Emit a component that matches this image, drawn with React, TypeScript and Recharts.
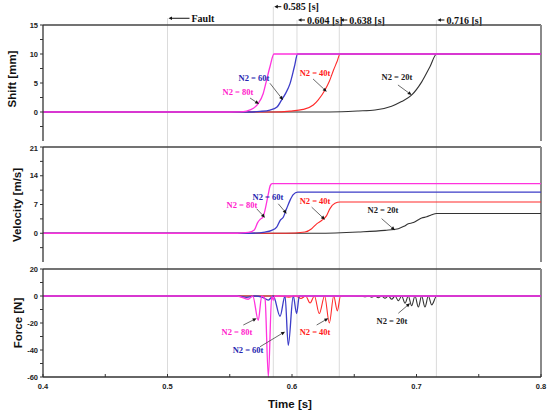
import React from 'react';
import { LineChart, Line, XAxis, YAxis, ReferenceLine, ReferenceDot } from 'recharts';

const FONT_SANS = "'Liberation Sans', Arial, sans-serif";
const FONT_SERIF = "'Liberation Serif', 'Times New Roman', serif";

// x axis (time, s)
const xTicks = [0.4, 0.45, 0.5, 0.55, 0.6, 0.65, 0.7, 0.75, 0.8];

// shift [mm]
const shiftT20 = [0.4, 0.62, 0.64, 0.6533, 0.6667, 0.68, 0.688, 0.696, 0.7042, 0.7108, 0.7162, 0.8];
const shift20 = [0, 0, 0.05, 0.17, 0.34, 1.0, 1.8, 2.9, 5.2, 7.8, 10, 10];
const shiftT40 = [0.4, 0.585, 0.5984, 0.609, 0.6171, 0.6211, 0.6265, 0.63, 0.6333, 0.6362, 0.6386, 0.8];
const shift40 = [0, 0, 0.15, 0.45, 1.2, 2.1, 3.8, 5.3, 7.2, 8.7, 10, 10];
const shiftT60 = [0.4, 0.565, 0.5743, 0.5823, 0.5877, 0.5917, 0.5951, 0.5984, 0.6019, 0.6045, 0.8];
const shift60 = [0, 0, 0.1, 0.34, 0.8, 2.1, 3.3, 4.9, 7.8, 10, 10];
const shiftT80 = [0.4, 0.55, 0.558, 0.5636, 0.569, 0.5727, 0.5769, 0.5796, 0.5823, 0.5855, 0.8];
const shift80 = [0, 0, 0.02, 0.17, 0.63, 1.4, 3.2, 5.5, 7.8, 10, 10];

// velocity [m/s]
const velT20 = [0.4, 0.62, 0.6533, 0.6747, 0.6854, 0.69, 0.6934, 0.6975, 0.7015, 0.7042, 0.7082, 0.7122, 0.7162, 0.8];
const vel20 = [0, 0, 0.3, 0.7, 1.1, 1.7, 2.3, 2.6, 3.3, 3.7, 4.0, 4.5, 4.8, 4.8];
const velT40 = [0.4, 0.595, 0.6104, 0.6158, 0.6198, 0.6238, 0.6278, 0.6305, 0.6345, 0.6386, 0.8];
const vel40 = [0, 0, 0.3, 1.1, 2.3, 3.1, 4.3, 6.0, 7.3, 7.6, 7.6];
const velT60 = [0.4, 0.565, 0.5783, 0.5837, 0.5877, 0.5904, 0.593, 0.5957, 0.5984, 0.601, 0.6045, 0.8];
const vel60 = [0, 0, 0.3, 0.7, 1.5, 3.1, 3.9, 6.0, 8.0, 9.4, 10, 10];
const velT80 = [0.4, 0.556, 0.5649, 0.5697, 0.5724, 0.5745, 0.5768, 0.5786, 0.581, 0.5825, 0.584, 0.8];
const vel80 = [0, 0, 0.2, 0.8, 2.6, 3.4, 4.0, 6.0, 9.6, 11.6, 12.1, 12.1];

// force [N]
const forceT20 = [0.4, 0.648, 0.6533, 0.656, 0.6586, 0.6613, 0.664, 0.6667, 0.6693, 0.672, 0.6747, 0.6774, 0.6801,
  0.6828, 0.6854, 0.6881, 0.6908, 0.6934, 0.6961, 0.6988, 0.7015, 0.7041, 0.7068, 0.7095, 0.7122, 0.7162, 0.8];
const force20 = [0, 0, -0.3, 0, -0.6, 0, -0.9, 0, -1.3, 0, -1.7, 0, -2.4,
  0, -3.5, 0, -5.4, 0, -7.2, 0, -8.2, 0, -8.2, 0, -6.6, 0, 0];
const forceT40 = [0.4, 0.59, 0.5975, 0.603, 0.6072, 0.611, 0.6145, 0.618, 0.6219, 0.6262, 0.63, 0.6335, 0.6364, 0.639, 0.8];
const force40 = [0, 0, -0.8, 0, -1.8, 0, -5.2, 0, -13, 0, -20, 0, -11, 0, 0];
const forceT60 = [0.4, 0.556, 0.5636, 0.57, 0.576, 0.581, 0.585, 0.5904, 0.5944, 0.597, 0.601, 0.6037, 0.6059, 0.8];
const force60 = [0, 0, -1, 0, -0.8, -3, 0, -15, 0, -36.5, 0, -13, 0, 0];
const forceT80 = [0.4, 0.556, 0.5649, 0.5685, 0.5729, 0.5757, 0.5783, 0.581, 0.5837, 0.585, 0.5862, 0.8];
const force80 = [0, 0, -2.4, 0, -18, 0, -2, -60, 0, -3, 0, 0];

const names = ['N2 = 20t', 'N2 = 40t', 'N2 = 60t', 'N2 = 80t'];
const lineColors = ['#333333', '#ff2a2a', '#3c3cc8', '#ff33dd'];
const textColors = ['#222222', '#ff1a1a', '#2626b0', '#ff1ecc'];

const markerTimes = [0.5, 0.585, 0.604, 0.638, 0.716];
const markerTexts = ['Fault', '0.585 [s]', '0.604 [s]', '0.638 [s]', '0.716 [s]'];

const zip = (t: number[], v: number[]) => t.map((x, i) => ({ t: x, v: v[i] }));

const shiftData = [zip(shiftT20, shift20), zip(shiftT40, shift40), zip(shiftT60, shift60), zip(shiftT80, shift80)];
const velData = [zip(velT20, vel20), zip(velT40, vel40), zip(velT60, vel60), zip(velT80, vel80)];
const forceData = [zip(forceT20, force20), zip(forceT40, force40), zip(forceT60, force60), zip(forceT80, force80)];

// annotation placement (label centre, arrow start, arrow tip) in data units, per series index
type Note = { i: number; tx: number; ty: number; ax: number; ay: number; bx: number; by: number };
const shiftNotes: Note[] = [
  { i: 0, tx: 0.6843, ty: 6.0, ax: 0.6851, ay: 4.66, bx: 0.6961, by: 2.93 },
  { i: 1, tx: 0.6185, ty: 6.72, ax: 0.6169, ay: 5.7, bx: 0.6279, by: 3.5 },
  { i: 2, tx: 0.5695, ty: 5.86, ax: 0.5823, ay: 4.95, bx: 0.5928, by: 2.07 },
  { i: 3, tx: 0.5566, ty: 3.45, ax: 0.5663, ay: 2.41, bx: 0.5735, by: 1.38 },
];
const velNotes: Note[] = [
  { i: 0, tx: 0.6731, ty: 5.55, ax: 0.672, ay: 3.55, bx: 0.6827, by: 0.72 },
  { i: 1, tx: 0.6185, ty: 7.97, ax: 0.6158, ay: 6.35, bx: 0.6265, by: 3.31 },
  { i: 2, tx: 0.5807, ty: 8.93, ax: 0.589, ay: 7.17, bx: 0.5957, by: 4.75 },
  { i: 3, tx: 0.5598, ty: 6.76, ax: 0.5716, ay: 5.96, bx: 0.5783, by: 3.79 },
];
const forceNotes: Note[] = [
  { i: 0, tx: 0.6803, ty: -18.3, ax: 0.6854, ay: -12.8, bx: 0.6948, by: -5.4 },
  { i: 1, tx: 0.6185, ty: -26.4, ax: 0.6198, ay: -21.5, bx: 0.6292, by: -16.5 },
  { i: 2, tx: 0.5647, ty: -40, ax: 0.5743, ay: -37.6, bx: 0.5944, by: -26.4 },
  { i: 3, tx: 0.5558, ty: -26.4, ax: 0.5609, ay: -21.5, bx: 0.5716, by: -16.5 },
];

const ArrowShape = (p: any) => {
  const { x1, y1, x2, y2 } = p;
  const a = Math.atan2(y2 - y1, x2 - x1);
  const c = Math.cos(a);
  const s = Math.sin(a);
  const bx = x2 - 4 * c;
  const by = y2 - 4 * s;
  return (
    <g>
      <line x1={x1} y1={y1} x2={bx} y2={by} stroke="#444" strokeWidth={0.8} />
      <polygon points={`${x2},${y2} ${bx - 1.8 * s},${by + 1.8 * c} ${bx + 1.8 * s},${by - 1.8 * c}`} fill="#111" />
    </g>
  );
};

const MarkerTag = ({ viewBox, text, long }: any) => {
  const x = viewBox.x;
  const y = viewBox.y;
  const len = long ? 22 : 8;
  return (
    <g>
      <line x1={x + 3} y1={y} x2={x + len} y2={y} stroke="#111" strokeWidth={1} />
      <polygon points={`${x + 1},${y} ${x + 4.5},${y - 1.8} ${x + 4.5},${y + 1.8}`} fill="#111" />
      <text x={x + len + 2} y={y} dominantBaseline="central" fontFamily={FONT_SERIF} fontWeight="bold" fontSize={10} fill="#111">
        {text}
      </text>
    </g>
  );
};

const tickStyle = { fontSize: 7.5, fill: '#222', fontWeight: 'bold', fontFamily: FONT_SANS };

function Panel(props: any) {
  const { top, height, margin, yDomain, yTicks, yStep, title, titleX, titleY, data, notes, span, bottomAxis, markerTops } = props;
  const majorY = (v: number) => (Math.abs(v / yStep - Math.round(v / yStep)) < 1e-6 ? String(v) : '');
  const majorX = (v: number) => (Math.abs(v * 10 - Math.round(v * 10)) < 1e-6 ? v.toFixed(1) : '');
  return (
    <div style={{ position: 'absolute', left: 0, top, width: 550, height }}>
      <LineChart width={550} height={height} margin={margin}>
        <XAxis
          type="number"
          dataKey="t"
          domain={[0.4, 0.8]}
          ticks={xTicks}
          tickFormatter={bottomAxis ? majorX : () => ''}
          height={bottomAxis ? 36 : 0}
          tickSize={-3}
          tickMargin={bottomAxis ? 10 : 0}
          tick={tickStyle}
          tickLine={{ stroke: '#333' }}
          axisLine={{ stroke: '#333', strokeWidth: 1.3 }}
          label={
            bottomAxis
              ? () => (
                  <text x={290} y={143} textAnchor="middle" fontFamily={FONT_SANS} fontWeight="bold" fontSize={11.5} fill="#111">
                    Time [s]
                  </text>
                )
              : undefined
          }
        />
        <YAxis
          type="number"
          domain={yDomain}
          ticks={yTicks}
          width={43}
          tickSize={3}
          tickMargin={2}
          tickFormatter={majorY}
          tick={tickStyle}
          tickLine={{ stroke: '#333' }}
          axisLine={{ stroke: '#333', strokeWidth: 1.3 }}
          label={() => (
            <text x={titleX} y={titleY} transform={`rotate(-90 ${titleX} ${titleY})`} textAnchor="middle" dominantBaseline="central"
              fontFamily={FONT_SANS} fontWeight="bold" fontSize={11.5} fill="#111">
              {title}
            </text>
          )}
        />
        {markerTimes.map((t, k) => (
          <ReferenceLine
            key={'m' + k}
            segment={[{ x: t, y: markerTops ? markerTops[k] : span[1] }, { x: t, y: span[0] }]}
            ifOverflow="visible"
            stroke="#d2d2d2"
            strokeWidth={0.8}
            label={markerTops ? (lp: any) => <MarkerTag {...lp} text={markerTexts[k]} long={k === 0} /> : undefined}
          />
        ))}
        {/* panel frame: top and right edges */}
        <ReferenceLine y={yDomain[1]} stroke="#444" strokeWidth={1.3} ifOverflow="visible" />
        <ReferenceLine x={0.8} stroke="#8a8a8a" strokeWidth={2} ifOverflow="visible" />
        {data.map((d: any, k: number) => (
          <Line
            key={names[k]}
            data={d}
            dataKey="v"
            type="monotone"
            stroke={lineColors[k]}
            strokeWidth={k === 3 ? 1.3 : k === 2 ? 1.3 : 1.1}
            dot={false}
            isAnimationActive={false}
          />
        ))}
        {notes.map((n: Note) => (
          <ReferenceLine
            key={'a' + n.i}
            segment={[{ x: n.ax, y: n.ay }, { x: n.bx, y: n.by }]}
            ifOverflow="visible"
            shape={ArrowShape}
          />
        ))}
        {notes.map((n: Note) => (
          <ReferenceDot
            key={'t' + n.i}
            x={n.tx}
            y={n.ty}
            r={0}
            ifOverflow="visible"
            shape={(p: any) => (
              <text x={p.cx} y={p.cy} textAnchor="middle" dominantBaseline="central" fontFamily={FONT_SERIF} fontWeight="bold"
                fontSize={8.5} fill={textColors[n.i]}>
                {names[n.i]}
              </text>
            )}
          />
        ))}
      </LineChart>
    </div>
  );
}

export default function App() {
  return (
    <div style={{ position: 'absolute', left: 0, top: 0, width: 550, height: 413, background: '#fff', overflow: 'hidden' }}>
      <Panel
        top={0}
        height={144}
        margin={{ top: 25, right: 9, bottom: 3, left: 0 }}
        yDomain={[-5, 15]}
        yTicks={[-5, -2.5, 0, 2.5, 5, 7.5, 10, 12.5, 15]}
        yStep={5}
        title="Shift [mm]"
        titleX={12}
        titleY={79}
        data={shiftData}
        notes={shiftNotes}
        span={[-6, 16]}
        markerTops={[16.16, 18.16, 15.86, 15.86, 15.86]}
      />
      <Panel
        top={144}
        height={121}
        margin={{ top: 3, right: 9, bottom: 3, left: 0 }}
        yDomain={[-7, 21]}
        yTicks={[-7, -3.5, 0, 3.5, 7, 10.5, 14, 17.5, 21]}
        yStep={7}
        title="Velocity [m/s]"
        titleX={17}
        titleY={61}
        data={velData}
        notes={velNotes}
        span={[-9, 23]}
      />
      <Panel
        top={265}
        height={148}
        margin={{ top: 4, right: 9, bottom: 0, left: 0 }}
        yDomain={[-60, 20]}
        yTicks={[-60, -50, -40, -30, -20, -10, 0, 10, 20]}
        yStep={20}
        title="Force [N]"
        titleX={18}
        titleY={58}
        data={forceData}
        notes={forceNotes}
        span={[-60, 24]}
        bottomAxis
      />
    </div>
  );
}
